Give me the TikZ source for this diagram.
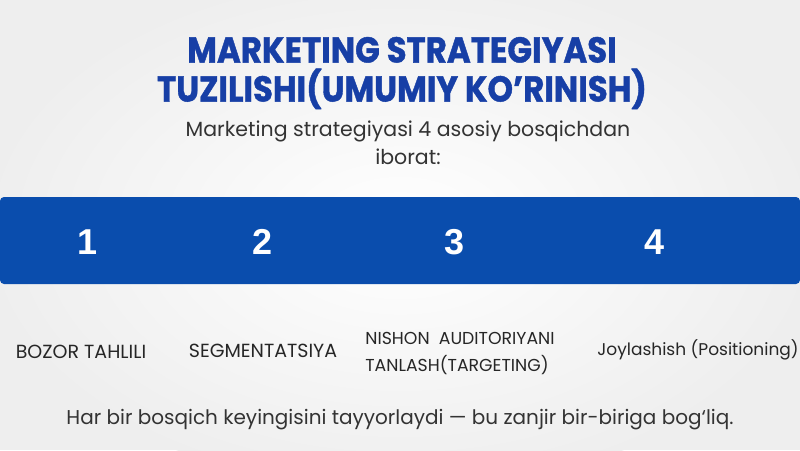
\documentclass[tikz,border=0pt]{standalone}
\usepackage{fontspec}
\setmainfont{Poppins}
\newfontfamily\numfont{Liberation Sans}
\newfontfamily\titlefont[BoldFeatures={FakeBold=1.2}]{Poppins}
\usetikzlibrary{calc}
\definecolor{BarBlue}{HTML}{0A4DAD}
\definecolor{TitleBlue}{HTML}{173FA6}
\definecolor{PageGray}{HTML}{EEEEEE}
\def\Steps{1/88, 2/263, 3/455, 4/655}
\tikzset{Title/.style={
    text=TitleBlue,
    align=center,
    font={\titlefont\bfseries\fontsize{36pt}{39}\selectfont}
    },
    Sub/.style={
    text=black!80,
    align=center,
    font={\fontsize{20.5pt}{28}\selectfont}
    },
    Number/.style={
    text=white,
    font={\numfont\bfseries\fontsize{36pt}{40}\selectfont}
    },
    Label/.style={
    text=black!85,
    align=left,
    inner sep=0pt,
    font={\fontsize{19pt}{27}\selectfont}
    }
}

\begin{document}
\begin{tikzpicture}[x=1pt,y=-1pt]
\fill [PageGray] (0,0) rectangle (800,450);
\useasboundingbox (0,0) rectangle (800,450);
\shade [inner color=white, outer color=PageGray] (400,230) ellipse (420 and 260);
\node [Title] (title) at (402,73) {\scalebox{0.9}[1]{MARKETING STRATEGIYASI}\\\scalebox{0.9}[1]{TUZILISHI(UMUMIY KO’RINISH)}};
\node [Sub] (sub) at (408,143) {Marketing strategiyasi 4 asosiy bosqichdan\\iborat:};
\fill [BarBlue, rounded corners=4pt] (0,197) rectangle (800,284);
\foreach \i/\xs in \Steps {
\node [Number] (n\i) at (\xs,242) {\i};
}
\node [Label] (l1) at (81,352) {BOZOR TAHLILI};
\node [Label] (l2) at (263,351) {SEGMENTATSIYA};
\node [Label, font={\fontsize{17.3pt}{27}\selectfont}] (l3) at (460,353) {NISHON\ \ AUDITORIYANI\\TANLASH(TARGETING)};
\node [Label, font={\fontsize{17pt}{27}\selectfont}] (l4) at (698,350) {Joylashish (Positioning)};
\node [Sub, font={\fontsize{20pt}{28}\selectfont}] (foot) at (400,420) {Har bir bosqich keyingisini tayyorlaydi — bu zanjir bir-biriga bog‘liq.};
\end{tikzpicture}
\end{document}
